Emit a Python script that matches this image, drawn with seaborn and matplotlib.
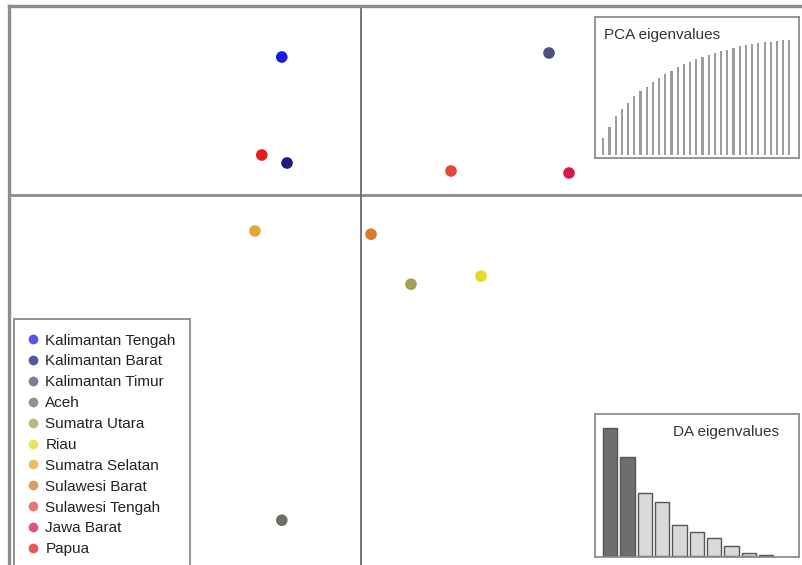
import matplotlib
matplotlib.use("Agg")
import matplotlib.pyplot as plt
import seaborn as sns
import pandas as pd

# ---- data ----
populations = ["Kalimantan Tengah", "Kalimantan Barat", "Kalimantan Timur", "Aceh",
               "Sumatra Utara", "Riau", "Sumatra Selatan", "Sulawesi Barat",
               "Sulawesi Tengah", "Jawa Barat", "Papua"]
ld1 = [-1.98, -1.85, 4.70, -1.98, 1.25, 3.00, -2.65, 0.25, 2.25, 5.20, -2.48]
ld2 = [3.45, 0.80, 3.55, -8.13, -2.23, -2.03, -0.90, -0.98, 0.60, 0.55, 1.00]
colors = ["#1c1ce0", "#1c1c80", "#50507e", "#6e6e62", "#a4a052", "#e2dc22",
          "#e2a836", "#d87a2a", "#e0483a", "#d81a4a", "#e81c1c"]

pca_cumvar = [15.1, 24.6, 33.9, 40.0, 45.5, 51.3, 55.9, 58.8, 63.8, 67.2, 70.1,
              73.0, 76.2, 78.8, 81.2, 83.2, 85.2, 87.0, 88.4, 90.1, 91.6, 93.3,
              94.5, 95.7, 96.8, 97.4, 98.0, 98.6, 99.1, 99.7, 100.0]
da_eig = [38.4, 29.7, 18.7, 16.2, 9.2, 7.2, 5.2, 3.0, 0.7, 0.2]
da_retained = 2

df = pd.DataFrame({"LD1": ld1, "LD2": ld2, "pop": populations})
palette = dict(zip(populations, colors))

plt.rcParams["font.family"] = ["Liberation Sans", "DejaVu Sans"]
W, H = 803, 565
fig = plt.figure(figsize=(W / 100, H / 100), dpi=100)

# main axes (extends past the right and bottom edges)
L, T, R, B = 9, 6, 812, 575
ax = fig.add_axes([L / W, 1 - B / H, (R - L) / W, (B - T) / H])
sns.scatterplot(data=df, x="LD1", y="LD2", hue="pop", palette=palette,
                hue_order=populations, s=70, edgecolor="none", ax=ax, zorder=3)
ax.set_xlim(-8.8, 11.275)
ax.set_ylim(-9.5, 4.725)
ax.axhline(0, color="#8a8a8a", lw=2.0, zorder=1)
ax.axvline(0, color="#6a6a6a", lw=1.3, zorder=1)
ax.set_xticks([]); ax.set_yticks([])
ax.set_xlabel(""); ax.set_ylabel("")
for s in ax.spines.values():
    s.set_color("#8c8c8c")
    s.set_linewidth(2.4)

handles, labels = ax.get_legend_handles_labels()
ax.get_legend().remove()
for h in handles:
    h.set_markersize(7)
    h.set_alpha(0.75)
leg = fig.legend(handles, labels, loc="upper left",
                 bbox_to_anchor=(14 / W, 1 - 319 / H), borderaxespad=0,
                 fontsize=11, frameon=True, fancybox=False, framealpha=1,
                 edgecolor="#8a8a8a", handlelength=0.6, handletextpad=0.5,
                 labelspacing=0.45, borderpad=0.95)
leg.get_frame().set_linewidth(1.3)
for t in leg.get_texts():
    t.set_color("#222222")

# PCA eigenvalues inset
px0, py0, px1, py1 = 595, 17, 799, 158
axp = fig.add_axes([px0 / W, 1 - py1 / H, (px1 - px0) / W, (py1 - py0) / H])
pdf = pd.DataFrame({"k": range(len(pca_cumvar)), "v": pca_cumvar})
sns.barplot(data=pdf, x="k", y="v", color="#9c9c9c", width=0.33,
            edgecolor="none", ax=axp, native_scale=True)
axp.set_xlim(-1.34, 31.56)
axp.set_ylim(-2.6, 120)
axp.set_xticks([]); axp.set_yticks([])
axp.set_xlabel(""); axp.set_ylabel("")
for s in axp.spines.values():
    s.set_color("#8c8c8c"); s.set_linewidth(1.3)
axp.text(9 / (px1 - px0), 1 - 18 / (py1 - py0), "PCA eigenvalues",
         transform=axp.transAxes, fontsize=11, color="#333333",
         ha="left", va="center")

# DA eigenvalues inset
dx0, dy0, dx1, dy1 = 595, 414, 799, 557
axd = fig.add_axes([dx0 / W, 1 - dy1 / H, (dx1 - dx0) / W, (dy1 - dy0) / H])
ddf = pd.DataFrame({"k": [str(i) for i in range(len(da_eig))], "v": da_eig})
bar_cols = ["#6e6e6e" if i < da_retained else "#d9d9d9" for i in range(len(da_eig))]
sns.barplot(data=ddf, x="k", y="v", hue="k", palette=bar_cols, legend=False,
            width=0.83, edgecolor="#555555", linewidth=1.0, ax=axd)
axd.set_xlim(-0.88, 10.9)
axd.set_ylim(-0.39, 42.5)
axd.set_xticks([]); axd.set_yticks([])
axd.set_xlabel(""); axd.set_ylabel("")
for s in axd.spines.values():
    s.set_color("#8c8c8c"); s.set_linewidth(1.3)
axd.text((673 - dx0) / (dx1 - dx0), 1 - (432 - dy0) / (dy1 - dy0), "DA eigenvalues",
         transform=axd.transAxes, fontsize=11, color="#333333",
         ha="left", va="center")

fig.savefig("out.png", dpi=100)
